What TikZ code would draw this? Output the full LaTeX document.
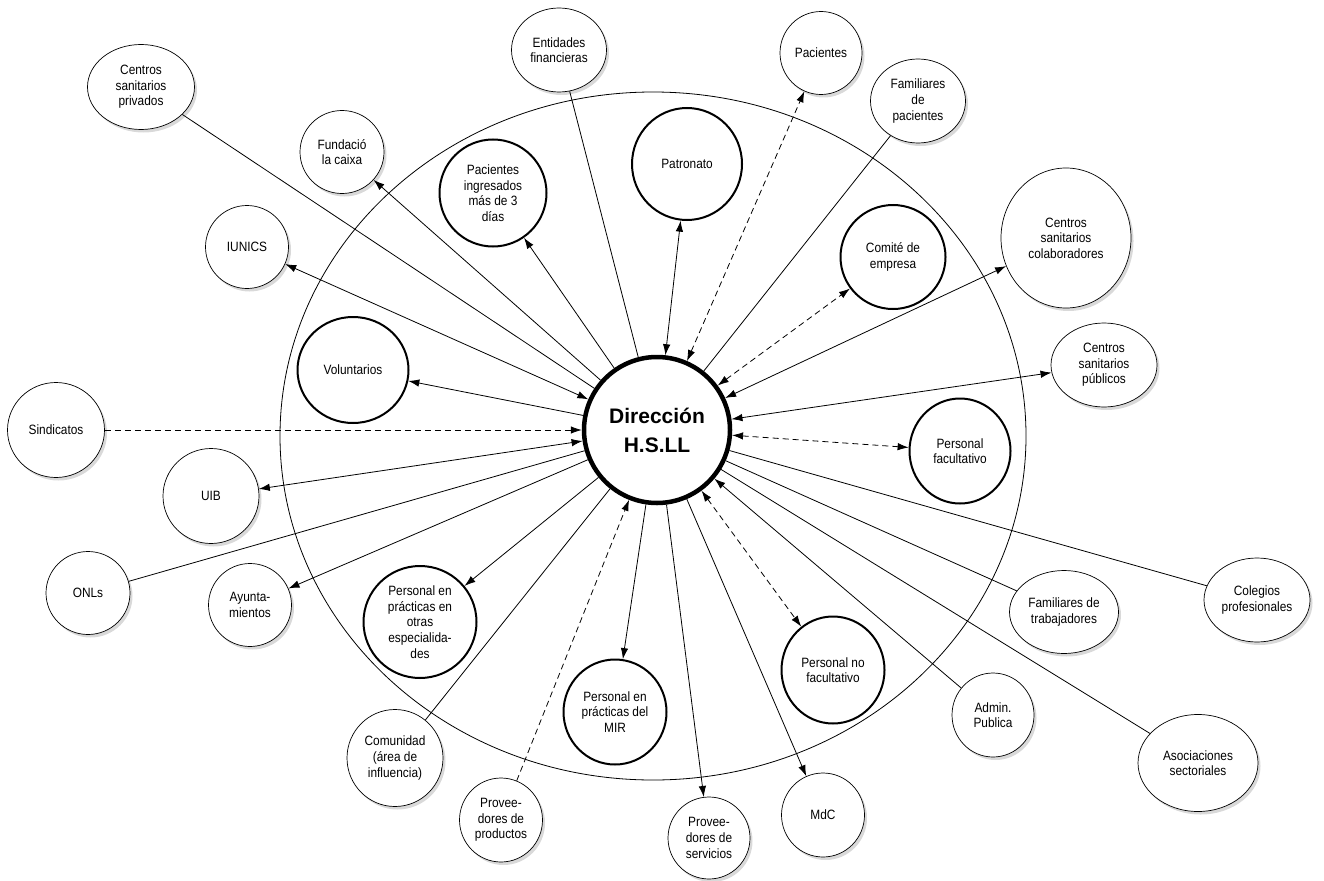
\documentclass[tikz,border=0pt]{standalone}
\usepackage{fontspec}
\setmainfont{Liberation Sans}[FakeStretch=0.88]
\newfontfamily\dirfont{Liberation Sans}
\usepackage{tikz}
\usetikzlibrary{shapes.geometric,shadows,arrows.meta}

\begin{document}
\begin{tikzpicture}[x=1pt,y=-1pt,
  >={Latex[length=11pt,width=7.5pt]},
  every node/.style={ellipse,draw,fill=white,align=center,inner sep=0pt,
    font=\fontsize{13.5}{15.6}\selectfont},
  sz/.style 2 args={minimum width=#1pt,minimum height=#2pt},
  outer/.style={line width=0.7pt,drop shadow={opacity=0.3,shadow xshift=2.5pt,shadow yshift=-3pt}},
  inner/.style={line width=2pt},
  link/.style={line width=0.8pt},
  dashlink/.style={line width=0.8pt,dash pattern=on 6pt off 4pt}]
\useasboundingbox (0,0) rectangle (1324,880);
% frontier of the hospital
\draw[line width=0.8pt] (653,436) ellipse [x radius=373pt, y radius=344pt];
% centre
\node[sz={146}{146},line width=4.5pt,font=\dirfont\fontsize{21}{29}\selectfont\bfseries] (dir) at (657,430) {Dirección\\H.S.LL};
% inside
\node[inner,sz={107}{107}] (ping) at (493,193) {Pacientes\\ingresados\\más de 3\\días};
\node[inner,sz={110}{112}] (pat) at (687,164) {Patronato};
\node[inner,sz={105}{104}] (cem) at (893,257) {Comité de\\empresa};
\node[inner,sz={111}{106}] (vol) at (353,370) {Voluntarios};
\node[inner,sz={101}{105}] (pfac) at (960,451) {Personal\\facultativo};
\node[inner,sz={113}{112}] (potr) at (420,622) {Personal en\\prácticas en\\otras\\especialida-\\des};
\node[inner,sz={103}{105}] (mir) at (615,712) {Personal en\\prácticas del\\MIR};
\node[inner,sz={103}{107}] (pnf) at (833,670) {Personal no\\facultativo};
% outside
\node[outer,sz={107}{85}] (csp) at (141,87) {Centros\\sanitarios\\privados};
\node[outer,sz={84}{83}] (fun) at (342,152) {Fundació\\la caixa};
\node[outer,sz={83}{83}] (iun) at (247,247) {IUNICS};
\node[outer,sz={95}{84}] (ent) at (559,50) {Entidades\\financieras};
\node[outer,sz={82}{83}] (pac) at (821,53) {Pacientes};
\node[outer,sz={95}{84}] (fpac) at (918,101) {Familiares\\de\\pacientes};
\node[outer,sz={130}{140}] (ccol) at (1066,238) {Centros\\sanitarios\\colaboradores};
\node[outer,sz={106}{84}] (cpub) at (1104,365) {Centros\\sanitarios\\públicos};
\node[outer,sz={97}{95}] (sin) at (56,430) {Sindicatos};
\node[outer,sz={96}{95}] (uib) at (211,496) {UIB};
\node[outer,sz={84}{83}] (onl) at (88,593) {ONLs};
\node[outer,sz={83}{83}] (ayu) at (250,605) {Ayunta-\\mientos};
\node[outer,sz={96}{97}] (com) at (395,758) {Comunidad\\(área de\\influencia)};
\node[outer,sz={83}{84}] (pprod) at (501,820) {Provee-\\dores de\\productos};
\node[outer,sz={82}{82}] (pserv) at (709,838) {Provee-\\dores de\\servicios};
\node[outer,sz={83}{84}] (mdc) at (823,815) {MdC};
\node[outer,sz={82}{84}] (adm) at (993,715) {Admin.\\Publica};
\node[outer,sz={109}{83}] (ftrab) at (1064,612) {Familiares de\\trabajadores};
\node[outer,sz={106}{84}] (col) at (1257,600) {Colegios\\profesionales};
\node[outer,sz={120}{97}] (aso) at (1198,763) {Asociaciones\\sectoriales};
% relations
\draw[link] (dir) -- (csp);
\draw[link,->] (dir) -- (fun);
\draw[link,<->] (dir) -- (iun);
\draw[link,->] (dir) -- (ping);
\draw[link] (dir) -- (ent);
\draw[link,<->] (dir) -- (pat);
\draw[dashlink,<->] (dir) -- (pac);
\draw[link] (dir) -- (fpac);
\draw[dashlink,<->] (dir) -- (cem);
\draw[link,<->] (dir) -- (ccol);
\draw[link,<->] (dir) -- (cpub);
\draw[dashlink,<->] (dir) -- (pfac);
\draw[link,->] (dir) -- (vol);
\draw[dashlink,->] (sin) -- (dir);
\draw[link,<->] (dir) -- (uib);
\draw[link] (dir) -- (onl);
\draw[link,->] (dir) -- (ayu);
\draw[link,->] (dir) -- (potr);
\draw[link] (dir) -- (com);
\draw[dashlink,->] (pprod) -- (dir);
\draw[link,->] (dir) -- (mir);
\draw[link,->] (dir) -- (pserv);
\draw[link,->] (dir) -- (mdc);
\draw[dashlink,<->] (dir) -- (pnf);
\draw[link,->] (adm) -- (dir);
\draw[link] (dir) -- (ftrab);
\draw[link] (dir) -- (col);
\draw[link] (dir) -- (aso);
\end{tikzpicture}
\end{document}
